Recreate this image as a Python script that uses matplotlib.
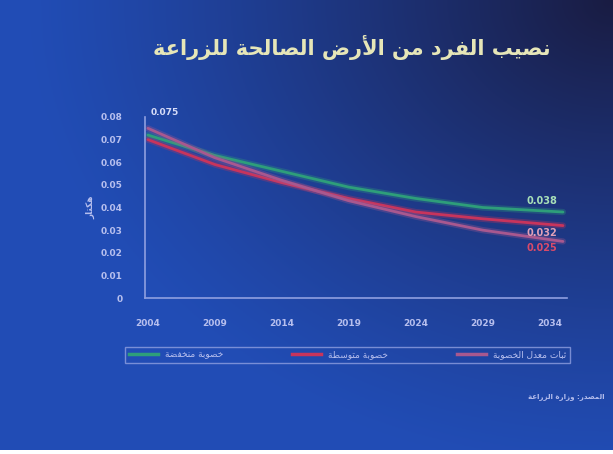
import numpy as np
import matplotlib
matplotlib.use("Agg")
import matplotlib.pyplot as plt
from matplotlib.lines import Line2D

# ---------------------------------------------------------------- data
years = [2004, 2009, 2014, 2019, 2024, 2029, 2035]
tick_years = [2004, 2009, 2014, 2019, 2024, 2029, 2034]
low_fert = [0.072, 0.063, 0.056, 0.049, 0.044, 0.040, 0.038]
mid_fert = [0.070, 0.059, 0.051, 0.044, 0.038, 0.035, 0.032]
const_fert = [0.075, 0.062, 0.052, 0.043, 0.036, 0.030, 0.025]
y_ticks = [0, 0.01, 0.02, 0.03, 0.04, 0.05, 0.06, 0.07, 0.08]
y_tick_labels = ["0", "0.01", "0.02", "0.03", "0.04", "0.05", "0.06", "0.07", "0.08"]

title_text = "نصيب الفرد من الأرض الصالحة للزراعة"
ylabel_text = "هكتار"
series_names = ["خصوبة منخفضة", "خصوبة متوسطة", "ثبات معدل الخصوبة"]
source_text = "المصدر: وزارة الزراعة"

# ---------------------------------------------------------------- arabic shaping
# presentation forms: isolated, final, initial, medial (None = does not join forward)
FORMS = {
    "ء": (0xFE80, None, None, None),
    "ا": (0xFE8D, 0xFE8E, None, None),
    "أ": (0xFE83, 0xFE84, None, None),
    "ب": (0xFE8F, 0xFE90, 0xFE91, 0xFE92),
    "ة": (0xFE93, 0xFE94, None, None),
    "ت": (0xFE95, 0xFE96, 0xFE97, 0xFE98),
    "ث": (0xFE99, 0xFE9A, 0xFE9B, 0xFE9C),
    "ج": (0xFE9D, 0xFE9E, 0xFE9F, 0xFEA0),
    "ح": (0xFEA1, 0xFEA2, 0xFEA3, 0xFEA4),
    "خ": (0xFEA5, 0xFEA6, 0xFEA7, 0xFEA8),
    "د": (0xFEA9, 0xFEAA, None, None),
    "ذ": (0xFEAB, 0xFEAC, None, None),
    "ر": (0xFEAD, 0xFEAE, None, None),
    "ز": (0xFEAF, 0xFEB0, None, None),
    "س": (0xFEB1, 0xFEB2, 0xFEB3, 0xFEB4),
    "ش": (0xFEB5, 0xFEB6, 0xFEB7, 0xFEB8),
    "ص": (0xFEB9, 0xFEBA, 0xFEBB, 0xFEBC),
    "ض": (0xFEBD, 0xFEBE, 0xFEBF, 0xFEC0),
    "ط": (0xFEC1, 0xFEC2, 0xFEC3, 0xFEC4),
    "ظ": (0xFEC5, 0xFEC6, 0xFEC7, 0xFEC8),
    "ع": (0xFEC9, 0xFECA, 0xFECB, 0xFECC),
    "غ": (0xFECD, 0xFECE, 0xFECF, 0xFED0),
    "ف": (0xFED1, 0xFED2, 0xFED3, 0xFED4),
    "ق": (0xFED5, 0xFED6, 0xFED7, 0xFED8),
    "ك": (0xFED9, 0xFEDA, 0xFEDB, 0xFEDC),
    "ل": (0xFEDD, 0xFEDE, 0xFEDF, 0xFEE0),
    "م": (0xFEE1, 0xFEE2, 0xFEE3, 0xFEE4),
    "ن": (0xFEE5, 0xFEE6, 0xFEE7, 0xFEE8),
    "ه": (0xFEE9, 0xFEEA, 0xFEEB, 0xFEEC),
    "و": (0xFEED, 0xFEEE, None, None),
    "ى": (0xFEEF, 0xFEF0, None, None),
    "ي": (0xFEF1, 0xFEF2, 0xFEF3, 0xFEF4),
}
LAM_ALEF = {"ا": (0xFEFB, 0xFEFC), "أ": (0xFEF7, 0xFEF8)}


def joins_forward(ch):
    return ch in FORMS and FORMS[ch][2] is not None


def shape(text):
    """Pick contextual letter forms and return the string in visual order."""
    out = []
    i = 0
    n = len(text)
    while i < n:
        ch = text[i]
        if ch not in FORMS:
            out.append(ch)
            i += 1
            continue
        prev = i > 0 and joins_forward(text[i - 1])
        # lam + alef ligature
        if ch == "ل" and i + 1 < n and text[i + 1] in LAM_ALEF:
            iso, fin = LAM_ALEF[text[i + 1]]
            out.append(chr(fin if prev else iso))
            i += 2
            continue
        nxt = i + 1 < n and text[i + 1] in FORMS
        iso, fin, ini, med = FORMS[ch]
        can_fwd = ini is not None
        if prev and nxt and can_fwd:
            code = med
        elif prev:
            code = fin
        elif nxt and can_fwd:
            code = ini
        else:
            code = iso
        out.append(chr(code))
        i += 1
    return "".join(out)[::-1]


# ---------------------------------------------------------------- figure
W, H = 613, 454
fig = plt.figure(figsize=(W / 100, H / 100), dpi=100)
fig.patch.set_facecolor("white")

# gradient backdrop: bright royal blue, darkening towards the upper right
bg = fig.add_axes([0, 4 / H, 1, 1 - 4 / H], zorder=0)
gx, gy = np.meshgrid(np.linspace(0, 1, 300), np.linspace(0, 1, 220))
dist = np.sqrt(((gx - 1.0) * 1.1) ** 2 + ((gy - 0.0) * 1.0) ** 2)
t = np.clip(1 - dist / 1.05, 0, 1) ** 1.2
bright = np.array([0.13, 0.30, 0.71])
dark = np.array([0.10, 0.11, 0.26])
img = bright[None, None, :] * (1 - t[..., None]) + dark[None, None, :] * t[..., None]
bg.imshow(img, aspect="auto", extent=[0, 1, 0, 1], origin="upper")
bg.set_axis_off()

ax = fig.add_axes([145 / W, (H - 298) / H, (567 - 145) / W, (298 - 117) / H], zorder=2)
ax.patch.set_alpha(0)

tick_col = "#b7bfee"
axis_col = "#8f9fe0"

colors = ["#2e9e7a", "#c8345c", "#a8588f"]
series = [low_fert, mid_fert, const_fert]
for vals, c in zip(series, colors):
    ax.plot(years, vals, color=c, lw=4.5, alpha=0.3, solid_capstyle="round")
    ax.plot(years, vals, color=c, lw=2.0, solid_capstyle="round")

ax.set_xlim(2003.78, 2035.3)
ax.set_ylim(0, 0.08)
ax.set_yticks(y_ticks)
ax.set_yticklabels(y_tick_labels)
ax.set_xticks(tick_years)
ax.set_xticklabels([str(y) for y in tick_years])
ax.tick_params(axis="y", colors=tick_col, labelsize=6.5, length=0, pad=16)
ax.tick_params(axis="x", colors=tick_col, labelsize=6.5, length=0, pad=15)
for lab in ax.get_xticklabels() + ax.get_yticklabels():
    lab.set_fontweight("bold")
for side in ("top", "right"):
    ax.spines[side].set_visible(False)
for side in ("left", "bottom"):
    ax.spines[side].set_color(axis_col)
    ax.spines[side].set_linewidth(1.2)

ax.set_ylabel(shape(ylabel_text), color=tick_col, fontsize=6.5, labelpad=4,
              fontweight="bold")

# value labels at the ends of the curves
ax.annotate(f"{const_fert[0]:.3f}", (years[0], const_fert[0]), xytext=(2, 8),
            textcoords="offset points", color="#d6dcf8", fontsize=6.5,
            fontweight="bold", va="bottom", ha="left")
ax.annotate(f"{low_fert[-1]:.3f}", (years[-1], low_fert[-1]), xytext=(-4, 4),
            textcoords="offset points", color="#a8e0b8", fontsize=7,
            fontweight="bold", va="bottom", ha="right")
ax.annotate(f"{mid_fert[-1]:.3f}", (years[-1], mid_fert[-1]), xytext=(-4, -2),
            textcoords="offset points", color="#e0a0b8", fontsize=7,
            fontweight="bold", va="top", ha="right")
ax.annotate(f"{const_fert[-1]:.3f}", (years[-1], const_fert[-1]), xytext=(-4, -1),
            textcoords="offset points", color="#d84a6a", fontsize=7,
            fontweight="bold", va="top", ha="right")

# legend strip
handles = [Line2D([0], [0], color=c, lw=2.5) for c in colors]
leg = fig.legend(handles, [shape(s) for s in series_names],
                 loc="lower left", ncol=3, mode="expand",
                 bbox_to_anchor=(125 / W, (H - 363) / H, 445 / W, 23 / H),
                 frameon=True, fontsize=6.5, handlelength=3.2,
                 borderaxespad=0, labelcolor=tick_col, fancybox=False)
leg.get_frame().set_facecolor("none")
leg.get_frame().set_edgecolor(axis_col)
leg.get_frame().set_linewidth(1.0)
leg.set_zorder(3)

fig.text(352 / W, 1 - 47 / H, shape(title_text), ha="center", va="center",
         fontsize=15, color="#e6e6b8", fontweight="bold", zorder=3)
fig.text(605 / W, 1 - 397 / H, shape(source_text), ha="right", va="center",
         fontsize=5, color=tick_col, fontweight="bold", zorder=3)

fig.savefig("out.png", dpi=100, facecolor=fig.get_facecolor())
